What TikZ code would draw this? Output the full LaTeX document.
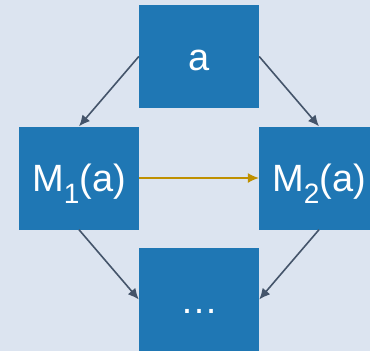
\documentclass[tikz,border=0pt]{standalone}
\usepackage{fontspec}
\setmainfont{Liberation Sans}
\usetikzlibrary{arrows.meta}
\definecolor{bgblue}{RGB}{220,228,240}
\definecolor{boxblue}{RGB}{31,119,180}
\definecolor{slate}{RGB}{68,84,106}
\definecolor{gold}{RGB}{191,144,0}
\tikzset{every picture/.style={x=1pt,y=-1pt}}
\tikzset{block/.style = {fill=boxblue, text=white, minimum width=120pt, minimum height=103pt, inner sep=0pt, text height=31pt, text depth=4pt, font=\fontsize{38}{38}\selectfont}}
\tikzset{edge/.style = {-{Latex[length=11pt,width=10pt]}, draw=slate, line width=1.6pt}}
\newcommand{\msub}[1]{\raisebox{-12pt}{\fontsize{28}{28}\selectfont #1}}

\begin{document}
\begin{tikzpicture}
\fill[bgblue] (0,0) rectangle (370,351);
\useasboundingbox (0,0) rectangle (370,351);
\node[block] (a) at (199,56.5) {a};
\node[block] (m1) at (79,178) {M\msub{1}(a)};
\node[block] (m2) at (319,178) {M\msub{2}(a)};
\node[block] (dots) at (199,299.5) {…};
\draw[edge] (a.west) -- (m1.north);
\draw[edge] (a.east) -- (m2.north);
\draw[edge] (m1.south) -- (dots.west);
\draw[edge] (m2.south) -- (dots.east);
\draw[edge, draw=gold, line width=1.3pt] (m1.east) -- (m2.west);
\end{tikzpicture}
\end{document}
